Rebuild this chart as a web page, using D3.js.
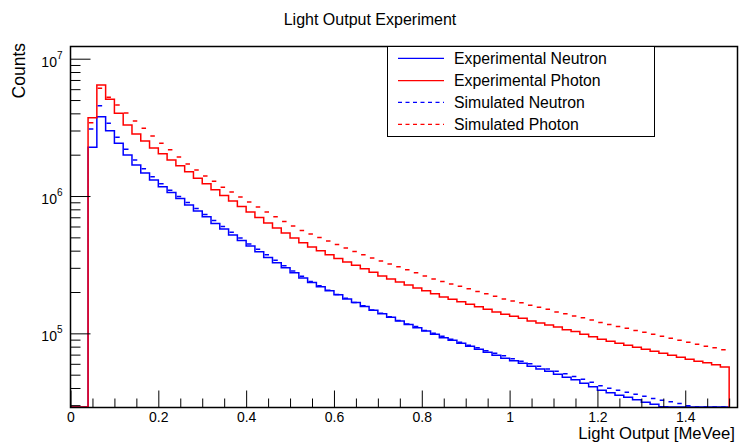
<!DOCTYPE html>
<html><head><meta charset="utf-8">
<script src="https://cdn.jsdelivr.net/npm/d3@7"></script>
<style>body{margin:0;background:#fff}svg{display:block}text{font-family:"Liberation Sans",Arial,Helvetica,sans-serif;fill:#000}</style>
</head><body><svg id="c" width="740" height="446"></svg>
<script>
// ---- data (counts per 0.02 MeVee bin, first bin starts at 0.04) ----
const binStart = 0.04, binWidth = 0.02;
const seriesNames = ["Experimental Neutron", "Experimental Photon", "Simulated Neutron", "Simulated Photon"];
const expNeutron = [2.27e6,3.78e6,2.99e6,2.42e6,1.99e6,1.68e6,1.47e6,1.31e6,1.17e6,1.06e6,
  9.60e5,8.61e5,7.79e5,7.05e5,6.32e5,5.76e5,5.21e5,4.75e5,4.33e5,3.92e5,
  3.57e5,3.26e5,3.00e5,2.76e5,2.53e5,2.35e5,2.18e5,2.04e5,1.91e5,1.78e5,
  1.68e5,1.57e5,1.47e5,1.39e5,1.31e5,1.23e5,1.16e5,1.10e5,1.04e5,9.83e4,
  9.27e4,8.89e4,8.46e4,8.04e4,7.65e4,7.27e4,6.92e4,6.58e4,6.31e4,6.05e4,
  5.75e4,5.51e4,5.29e4,5.03e4,4.78e4,4.59e4,4.33e4,4.08e4,3.85e4,3.69e4,
  3.54e4,3.42e4,3.28e4,3.15e4,3.04e4,2.92e4,2.77e4,2.65e4,2.55e4,2.45e4,
  2.35e4,2.25e4,2.15e4];
const expPhoton = [3.72e6,6.44e6,5.07e6,4.01e6,3.29e6,2.83e6,2.52e6,2.24e6,2.03e6,1.83e6,
  1.66e6,1.50e6,1.35e6,1.23e6,1.11e6,1.01e6,9.21e5,8.40e5,7.66e5,6.99e5,
  6.37e5,5.86e5,5.39e5,4.95e5,4.56e5,4.26e5,3.99e5,3.73e5,3.51e5,3.31e5,
  3.13e5,2.95e5,2.78e5,2.62e5,2.49e5,2.37e5,2.25e5,2.14e5,2.04e5,1.94e5,
  1.84e5,1.77e5,1.70e5,1.63e5,1.56e5,1.50e5,1.43e5,1.38e5,1.33e5,1.29e5,
  1.23e5,1.19e5,1.15e5,1.11e5,1.06e5,1.03e5,9.83e4,9.43e4,9.04e4,8.75e4,
  8.46e4,8.18e4,7.91e4,7.65e4,7.40e4,7.15e4,6.92e4,6.69e4,6.47e4,6.26e4,
  6.10e4,5.90e4,5.68e4];
const simNeutron = [3.08e6,4.55e6,3.39e6,2.68e6,2.19e6,1.83e6,1.58e6,1.38e6,1.23e6,1.10e6,
  9.93e5,8.98e5,8.12e5,7.35e5,6.64e5,6.01e5,5.44e5,4.95e5,4.48e5,4.09e5,
  3.73e5,3.40e5,3.10e5,2.85e5,2.60e5,2.39e5,2.22e5,2.06e5,1.92e5,1.80e5,
  1.68e5,1.59e5,1.48e5,1.40e5,1.32e5,1.24e5,1.17e5,1.12e5,1.05e5,1.00e5,
  9.51e4,9.04e4,8.60e4,8.18e4,7.84e4,7.46e4,7.15e4,6.86e4,6.52e4,6.26e4,
  6.00e4,5.75e4,5.51e4,5.29e4,5.07e4,4.86e4,4.63e4,4.40e4,4.15e4,3.98e4,
  3.85e4,3.72e4,3.60e4,3.48e4,3.36e4,3.25e4,3.17e4,3.09e4,2.97e4,2.82e4,
  2.70e4,2.60e4,2.50e4];
const simPhoton = [3.42e6,6.09e6,5.24e6,4.60e6,4.03e6,3.52e6,3.11e6,2.74e6,2.42e6,2.17e6,
  1.92e6,1.71e6,1.55e6,1.40e6,1.28e6,1.16e6,1.07e6,9.85e5,9.06e5,8.33e5,
  7.66e5,7.05e5,6.53e5,6.06e5,5.62e5,5.30e5,4.99e5,4.71e5,4.44e5,4.19e5,
  3.95e5,3.73e5,3.54e5,3.37e5,3.20e5,3.05e5,2.90e5,2.76e5,2.62e5,2.49e5,
  2.39e5,2.29e5,2.20e5,2.11e5,2.02e5,1.94e5,1.86e5,1.78e5,1.72e5,1.67e5,
  1.60e5,1.55e5,1.50e5,1.43e5,1.39e5,1.34e5,1.30e5,1.25e5,1.20e5,1.16e5,
  1.12e5,1.09e5,1.05e5,1.02e5,9.83e4,9.51e4,9.20e4,8.89e4,8.60e4,8.32e4,
  8.04e4,7.84e4,7.59e4];
const xMajorTicks = [0, 0.2, 0.4, 0.6, 0.8, 1, 1.2, 1.4];
const xTickLabels = ["0", "0.2", "0.4", "0.6", "0.8", "1", "1.2", "1.4"];
const yMajorTicks = [1e5, 1e6, 1e7];
const yTickExponents = ["5", "6", "7"];

// ---- layout ----
const svg = d3.select("#c");
const m = {l: 70.5, r: 737.5, t: 46.5, b: 407.5};
const xMax = 1.519, yMin = 2.884e4, yMax = 1.227e7;
const x = d3.scaleLinear().domain([0, xMax]).range([m.l, m.r]);
const y = d3.scaleLog().domain([yMin, yMax]).range([m.b, m.t]);

svg.append("defs").append("clipPath").attr("id", "clip")
  .append("rect").attr("x", m.l).attr("y", m.t).attr("width", m.r - m.l).attr("height", m.b - m.t + 1);

function histPoints(vals) {
  const pts = [{x: 0, v: yMin}];
  vals.forEach((v, i) => pts.push({x: binStart + i * binWidth, v: Math.max(v, yMin)}));
  const last = binStart + vals.length * binWidth;
  pts.push({x: last, v: Math.max(vals[vals.length - 1], yMin)});
  pts.push({x: last, v: yMin});
  return pts;
}
const yc = v => Math.min(y(Math.max(v, yMin)), m.b - 0.5);
const line = d3.line().x(d => x(d.x)).y(d => yc(d.v)).curve(d3.curveStepAfter);

const series = [
  {vals: expNeutron, color: "#0000ff", dash: null},
  {vals: expPhoton, color: "#ff0000", dash: null},
  {vals: simNeutron, color: "#0000ff", dash: "4,3.5"},
  {vals: simPhoton, color: "#ff0000", dash: "4,3.5"}
];
const gH = svg.append("g").attr("clip-path", "url(#clip)");
series.forEach(s => {
  if (!s.dash) {
    gH.append("path").attr("d", line(histPoints(s.vals)))
      .attr("fill", "none").attr("stroke", s.color).attr("stroke-width", 1.5);
  } else {
    // simulated: dashed bin-top segments
    gH.append("g").selectAll("line").data(s.vals).join("line")
      .attr("x1", (d, i) => x(binStart + i * binWidth))
      .attr("x2", (d, i) => x(binStart + (i + 1) * binWidth))
      .attr("y1", d => yc(d)).attr("y2", d => yc(d))
      .attr("stroke", s.color).attr("stroke-width", 1.5)
      .attr("stroke-dasharray", "4.5,20").attr("stroke-dashoffset", -0.8);
  }
});

// ---- axes ----
const xMinor = d3.range(0, 1.5001, 0.05).filter(v => xMajorTicks.every(t => Math.abs(t - v) > 1e-6));
const gx = svg.append("g").attr("transform", `translate(0,${m.b})`);
gx.call(d3.axisBottom(x).tickValues(xMinor).tickSize(-9).tickFormat(""));
gx.call(g => g.select(".domain").remove());
const gx2 = svg.append("g").attr("transform", `translate(0,${m.b})`);
gx2.call(d3.axisBottom(x).tickValues(xMajorTicks).tickSize(-17).tickPadding(5)
  .tickFormat((d, i) => xTickLabels[i]));
gx2.call(g => g.select(".domain").remove());
gx2.selectAll("text").attr("font-size", 14).attr("font-family", '"Liberation Sans",Arial,sans-serif');

const yMinor = [];
[1e4, 1e5, 1e6].forEach(dec => { for (let k = 2; k <= 9; k++) { const v = k * dec; if (v >= yMin && v <= yMax) yMinor.push(v); } });
const gy = svg.append("g").attr("transform", `translate(${m.l},0)`);
gy.call(d3.axisLeft(y).tickValues(yMinor).tickSize(-10).tickFormat(""));
gy.call(g => g.select(".domain").remove());
const gy2 = svg.append("g").attr("transform", `translate(${m.l},0)`);
gy2.call(d3.axisLeft(y).tickValues(yMajorTicks).tickSize(-20).tickFormat(""));
gy2.call(g => g.select(".domain").remove());
gy2.selectAll(".tick").each(function(d, i) {
  const t = d3.select(this).append("text").attr("x", -8).attr("y", 7.3)
    .attr("text-anchor", "end").attr("fill", "#000");
  t.append("tspan").attr("font-size", 14).text("10");
  t.append("tspan").attr("font-size", 10).attr("dy", -8).text(yTickExponents[i]);
});
svg.selectAll(".tick line").attr("stroke", "#000").attr("stroke-width", 1);

// frame
svg.append("rect").attr("x", m.l).attr("y", m.t).attr("width", m.r - m.l).attr("height", m.b - m.t)
  .attr("fill", "none").attr("stroke", "#000").attr("stroke-width", 1.5);

// titles
svg.append("text").attr("x", 370).attr("y", 25).attr("text-anchor", "middle")
  .attr("font-size", 16).text("Light Output Experiment");
svg.append("text").attr("x", 735).attr("y", 439).attr("text-anchor", "end")
  .attr("font-size", 16.7).text("Light Output [MeVee]");
svg.append("text").attr("transform", "translate(25,43) rotate(-90)").attr("text-anchor", "end")
  .attr("font-size", 17.5).text("Counts");

// legend
const lg = svg.append("g");
lg.append("rect").attr("x", 387.5).attr("y", 46.5).attr("width", 267).attr("height", 90)
  .attr("fill", "#fff").attr("stroke", "#000").attr("stroke-width", 1);
const legY = [58.3, 80.7, 102.3, 124.3];
series.forEach((s, i) => {
  lg.append("line").attr("x1", 398).attr("x2", 444).attr("y1", legY[i]).attr("y2", legY[i])
    .attr("stroke", s.color).attr("stroke-width", 1.2).attr("stroke-dasharray", s.dash);
  lg.append("text").attr("x", 454).attr("y", legY[i] + 5.5).attr("font-size", 15.8).text(seriesNames[i]);
});
</script></body></html>
